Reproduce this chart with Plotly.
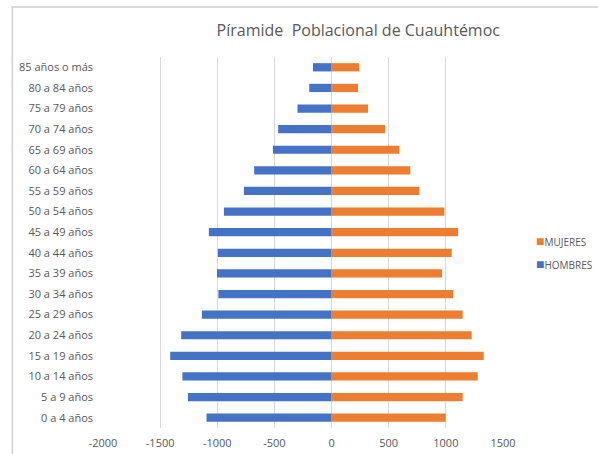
import plotly.graph_objects as go

categories = ["0 a 4 años", "5 a 9 años", "10 a 14 años", "15 a 19 años", "20 a 24 años",
              "25 a 29 años", "30 a 34 años", "35 a 39 años", "40 a 44 años", "45 a 49 años",
              "50 a 54 años", "55 a 59 años", "60 a 64 años", "65 a 69 años", "70 a 74 años",
              "75 a 79 años", "80 a 84 años", "85 años o más"]
hombres = [1094, 1257, 1305, 1412, 1316, 1135, 990, 1003, 995, 1074,
           942, 767, 677, 513, 467, 298, 195, 163]
mujeres = [998, 1147, 1278, 1331, 1226, 1147, 1063, 967, 1051, 1107,
           987, 768, 689, 593, 467, 319, 231, 240]
x_ticks = [-2000, -1500, -1000, -500, 0, 500, 1000, 1500]

BLUE = "#4472C4"
ORANGE = "#ED7D31"
GRAY = "#595959"
FONT = "Open Sans"

fig = go.Figure()
fig.add_trace(go.Bar(y=categories, x=[-v for v in hombres], orientation="h",
                     name="HOMBRES", marker=dict(color=BLUE, line=dict(width=0)),
                     width=0.4, showlegend=False))
fig.add_trace(go.Bar(y=categories, x=mujeres, orientation="h",
                     name="MUJERES", marker=dict(color=ORANGE, line=dict(width=0)),
                     width=0.4, showlegend=False))

W, H = 598, 454
L, R, T, B = 102.7, 95.3, 57, 26
pw, ph = W - L - R, H - T - B

def px(xp):
    return (xp - L) / pw

def py(yp):
    return (H - B - yp) / ph

fig.update_layout(
    width=W, height=H,
    margin=dict(l=L, r=R, t=T, b=B, pad=0, autoexpand=False),
    paper_bgcolor="white", plot_bgcolor="white",
    barmode="overlay",
    font=dict(family=FONT, color=GRAY, size=11),
    title=dict(text="Píramide  Poblacional de Cuauhtémoc", xref="paper", x=px(358),
               xanchor="center", yref="container", y=1 - 30 / H, yanchor="middle",
               font=dict(family=FONT, size=16, color=GRAY)),
    xaxis=dict(range=[-2000, 1500], tickvals=x_ticks, ticktext=[str(t) for t in x_ticks],
               showgrid=True, gridcolor="#D9D9D9", gridwidth=1,
               zeroline=True, zerolinecolor="#D9D9D9", zerolinewidth=1,
               showline=False, ticks="", ticklabelstandoff=7, automargin=False,
               tickfont=dict(size=11, color=GRAY), fixedrange=True),
    yaxis=dict(categoryorder="array", categoryarray=categories, showgrid=False,
               zeroline=False, showline=False, ticks="", ticklabelstandoff=9,
               automargin=False, tickfont=dict(size=11, color=GRAY), fixedrange=True),
    showlegend=False,
)

# chart frame
fig.add_shape(type="rect", xref="paper", yref="paper", x0=px(12), x1=px(800),
              y0=py(700), y1=py(7), line=dict(color="#D0D0D0", width=1.5),
              fillcolor="rgba(0,0,0,0)", layer="above")

# legend entries
legend_items = [("MUJERES", ORANGE, 240), ("HOMBRES", BLUE, 263)]
for name, color, ypix in legend_items:
    fig.add_annotation(xref="paper", yref="paper", x=px(534), y=py(ypix),
                       xanchor="left", yanchor="middle", showarrow=False,
                       text=f"<span style='color:{color};font-size:14px'>■</span>{name}",
                       font=dict(family=FONT, size=10, color=GRAY))

fig.write_html("out.html", config={"displayModeBar": False},
               post_script="document.body.style.margin='0';document.body.style.overflow='hidden';")
